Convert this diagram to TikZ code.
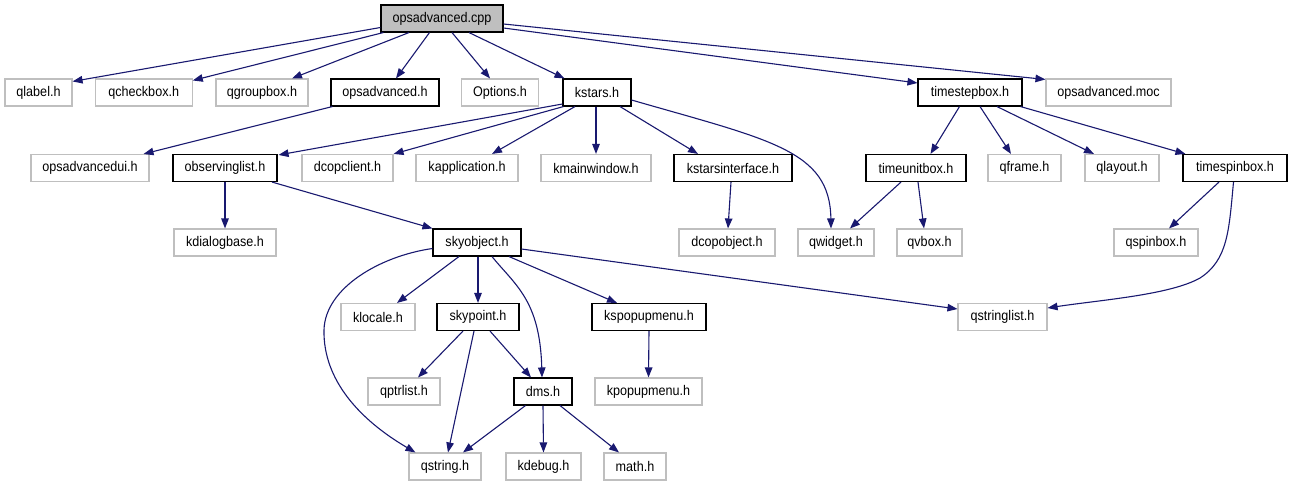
\documentclass[tikz,border=0pt]{standalone}
\usepackage{fontspec}
\setmainfont{Liberation Sans}[FakeStretch=0.9]
\usetikzlibrary{arrows.meta,calc}
\definecolor{edgeblue}{HTML}{191970}
\definecolor{boxgray}{HTML}{BFBFBF}
\tikzset{
  box/.style={rectangle, minimum height=27pt, inner sep=0pt, line width=1.1pt,
    font=\fontsize{14}{16}\selectfont, text=black},
  docbox/.style={box, draw=black, fill=white},
  extbox/.style={box, draw=boxgray, fill=white},
  rootbox/.style={box, draw=black, fill=boxgray},
  dep/.style={draw=edgeblue, line width=1.1pt, -{Triangle[length=10pt,width=7.5pt]}, fill=none}
}
\begin{document}
\begin{tikzpicture}[x=1pt,y=-1pt]
\useasboundingbox (0,0) rectangle (1291,485);
\fill[white] (0,0) rectangle (1291,485);
% row 1
\node[rootbox, minimum width=122pt] (cpp) at (442,18.5) {opsadvanced.cpp};
% row 2
\node[extbox, minimum width=67pt] (qlabel) at (38.5,92.5) {qlabel.h};
\node[extbox, minimum width=97pt] (qcheckbox) at (143.7,92.5) {qcheckbox.h};
\node[extbox, minimum width=92pt] (qgroupbox) at (262,92.5) {qgroupbox.h};
\node[docbox, minimum width=108pt] (opsadvh) at (385,92.5) {opsadvanced.h};
\node[extbox, minimum width=77pt] (options) at (500,92.5) {Options.h};
\node[docbox, minimum width=68pt] (kstars) at (597,92.5) {kstars.h};
\node[docbox, minimum width=104pt] (tsb) at (970,92.5) {timestepbox.h};
\node[extbox, minimum width=125pt] (moc) at (1108.5,92.5) {opsadvanced.moc};
% row 3
\node[extbox, minimum width=118pt] (opsadvancedui) at (90,168) {opsadvancedui.h};
\node[docbox, minimum width=104pt] (observinglist) at (225,168) {observinglist.h};
\node[extbox, minimum width=91pt] (dcopclient) at (347.5,168) {dcopclient.h};
\node[extbox, minimum width=102pt] (kapplication) at (467,168) {kapplication.h};
\node[extbox, minimum width=110pt] (kmainwindow) at (596,168) {kmainwindow.h};
\node[docbox, minimum width=118pt] (kstarsinterface) at (733,168) {kstarsinterface.h};
\node[docbox, minimum width=100pt] (timeunitbox) at (916,168) {timeunitbox.h};
\node[extbox, minimum width=73pt] (qframe) at (1024.5,168) {qframe.h};
\node[extbox, minimum width=74pt] (qlayout) at (1122,168) {qlayout.h};
\node[docbox, minimum width=104pt] (timespinbox) at (1235,168) {timespinbox.h};
% row 4
\node[extbox, minimum width=102pt] (kdialogbase) at (225,242.5) {kdialogbase.h};
\node[docbox, minimum width=88pt] (skyobject) at (477,242.5) {skyobject.h};
\node[extbox, minimum width=96pt] (dcopobject) at (727,242.5) {dcopobject.h};
\node[extbox, minimum width=76pt] (qwidget) at (836,242.5) {qwidget.h};
\node[extbox, minimum width=65pt] (qvbox) at (929.5,242.5) {qvbox.h};
\node[extbox, minimum width=84pt] (qspinbox) at (1156,242.5) {qspinbox.h};
% row 5
\node[extbox, minimum width=74pt] (klocale) at (378,317) {klocale.h};
\node[docbox, minimum width=82pt] (skypoint) at (478,317) {skypoint.h};
\node[docbox, minimum width=114pt] (kspopupmenu) at (649,317) {kspopupmenu.h};
\node[extbox, minimum width=89pt] (qstringlist) at (1002.5,317) {qstringlist.h};
% row 6
\node[extbox, minimum width=72pt] (qptrlist) at (404,391.5) {qptrlist.h};
\node[docbox, minimum width=58pt] (dms) at (543,391.5) {dms.h};
\node[extbox, minimum width=107pt] (kpopupmenu) at (648.5,391.5) {kpopupmenu.h};
% row 7
\node[extbox, minimum width=72pt] (qstring) at (445,466.5) {qstring.h};
\node[extbox, minimum width=75pt] (kdebug) at (543.5,466.5) {kdebug.h};
\node[extbox, minimum width=62pt] (math) at (635,466.5) {math.h};

% edges from opsadvanced.cpp
\draw[dep] ($(cpp.west)+(0,9)$) -- ($(qlabel.north east)+(0,3)$);
\draw[dep] ($(cpp.south west)+(3,0)$) -- ($(qcheckbox.north east)+(0,2)$);
\draw[dep] ($(cpp.south)+(-33,0)$) -- ($(qgroupbox.north)+(30,0)$);
\draw[dep] ($(cpp.south)+(-12.5,0)$) -- ($(opsadvh.north)+(11,0)$);
\draw[dep] ($(cpp.south)+(10,0)$) -- ($(options.north)+(-10,0)$);
\draw[dep] ($(cpp.south)+(27,0)$) -- ($(kstars.north west)+(2,0)$);
\draw[dep] ($(cpp.east)+(0,9.5)$) -- ($(tsb.west)+(0,-9.5)$);
\draw[dep] ($(cpp.east)+(0,5.5)$) -- ($(moc.north west)+(0,1)$);
% opsadvanced.h
\draw[dep] ($(opsadvh.south west)+(2,0)$) -- ($(opsadvancedui.north east)+(-6,0)$);
% kstars.h
\draw[dep] ($(kstars.west)+(0,11.5)$) -- ($(observinglist.north east)+(1,1)$);
\draw[dep] ($(kstars.south west)+(1,0)$) -- (dcopclient.north east);
\draw[dep] ($(kstars.south)+(-22,0)$) -- ($(kapplication.north)+(25,0)$);
\draw[dep] ($(kstars.south)+(-1,0)$) -- (kmainwindow.north);
\draw[dep] ($(kstars.south)+(23,0)$) -- ($(kstarsinterface.north)+(-35,0)$);
\draw[dep] ($(kstars.east)+(0,7.5)$) .. controls (770,140) and (830,150) .. ($(qwidget.north)+(-5,0)$);
% timestepbox.h
\draw[dep] ($(tsb.south)+(-10.5,0)$) -- ($(timeunitbox.north)+(14.5,0)$);
\draw[dep] ($(tsb.south)+(10,0)$) -- ($(qframe.north)+(-13.5,0)$);
\draw[dep] ($(tsb.south)+(27,0)$) -- ($(qlayout.north)+(-28,0)$);
\draw[dep] ($(tsb.south east)+(-2,0)$) -- ($(timespinbox.north west)+(3,0)$);
% observinglist.h
\draw[dep] (observinglist.south) -- (kdialogbase.north);
\draw[dep] ($(observinglist.south)+(47,0)$) -- (skyobject.north west);
% kstarsinterface.h
\draw[dep] ($(kstarsinterface.south)+(-2,0)$) -- ($(dcopobject.north)+(1,0)$);
% timeunitbox.h
\draw[dep] ($(timeunitbox.south)+(-15,0)$) -- ($(qwidget.north)+(14,0)$);
\draw[dep] ($(timeunitbox.south)+(2,0)$) -- ($(qvbox.north)+(-5.5,0)$);
% timespinbox.h
\draw[dep] ($(timespinbox.south)+(-16,0)$) -- ($(qspinbox.north)+(13,0)$);
\draw[dep] ($(timespinbox.south)+(-1.5,0)$) .. controls (1229,230) and (1228,260) .. (1200,278)
  .. controls (1170,295) and (1100,300) .. ($(qstringlist.east)+(0,-9)$);
% skyobject.h
\draw[dep] ($(skyobject.east)+(0,6.5)$) -- ($(qstringlist.west)+(0,-8)$);
\draw[dep] ($(skyobject.south)+(-18,0)$) -- ($(klocale.north)+(19,0)$);
\draw[dep] ($(skyobject.south)+(1,0)$) -- (skypoint.north);
\draw[dep] ($(skyobject.south)+(15,0)$) .. controls (515,285) and (540,300) .. ($(dms.north)+(-1,0)$);
\draw[dep] ($(skyobject.south)+(32,0)$) -- ($(kspopupmenu.north)+(-32,0)$);
\draw[dep] ($(skyobject.west)+(0,6)$) .. controls (380,256) and (325,288) .. (324,330)
  .. controls (323,380) and (360,420) .. ($(qstring.north west)+(7,0)$);
% skypoint.h
\draw[dep] ($(skypoint.south)+(-15,0)$) -- ($(qptrlist.north)+(14,0)$);
\draw[dep] ($(skypoint.south)+(-4,0)$) -- ($(qstring.north)+(3,0)$);
\draw[dep] ($(skypoint.south)+(12,0)$) -- ($(dms.north)+(-12,0)$);
% kspopupmenu.h
\draw[dep] (kspopupmenu.south) -- (kpopupmenu.north);
% dms.h
\draw[dep] ($(dms.south)+(-17.5,0)$) -- ($(qstring.north)+(18,0)$);
\draw[dep] (dms.south) -- (kdebug.north);
\draw[dep] ($(dms.south)+(17,0)$) -- ($(math.north)+(-16,0)$);
\end{tikzpicture}
\end{document}
